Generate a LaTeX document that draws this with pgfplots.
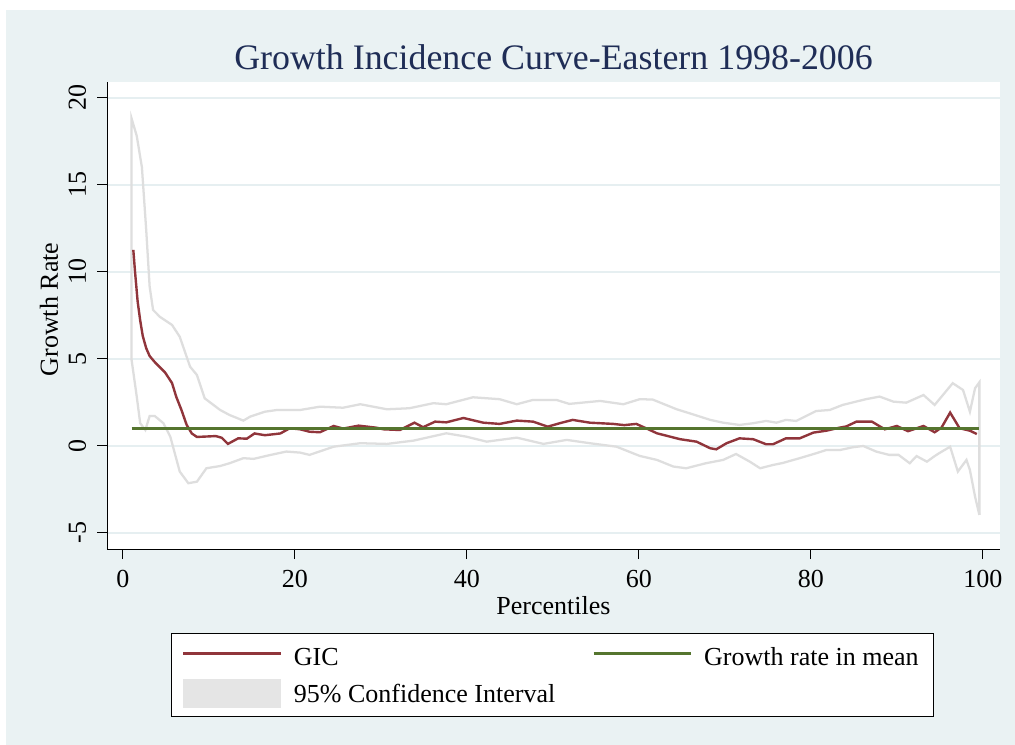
\documentclass[border=0pt]{standalone}
\usepackage{fontspec}
\setmainfont{Liberation Serif}
\usepackage{pgfplots}
\usepackage{pgfplotstable}
\pgfplotsset{compat=1.18}

\definecolor{regionbg}{RGB}{234,242,243}
\definecolor{gridc}{RGB}{230,239,241}
\definecolor{gicred}{RGB}{144,53,59}
\definecolor{meangreen}{RGB}{85,117,47}
\definecolor{cigray}{RGB}{222,222,222}
\definecolor{cifill}{RGB}{229,229,229}
\definecolor{titleblue}{RGB}{31,45,86}

\pgfplotsset{
  longline/.style={legend image code/.code={\draw[##1] (0pt,1pt) -- (73pt,1pt);}},
  cibox/.style={legend image code/.code={\fill[cifill] (0pt,-9.5pt) rectangle (73pt,11.5pt);}},
}

% growth incidence curve
\pgfplotstableread{
x y
1.2 11.25
1.4 10.0
1.7 8.3
2.0 7.2
2.3 6.3
2.7 5.6
3.1 5.15
3.7 4.8
4.3 4.5
4.9 4.2
5.7 3.6
6.2 2.8
6.8 2.05
7.4 1.2
8.0 0.7
8.6 0.5
10.8 0.55
11.5 0.45
12.2 0.1
13.4 0.42
14.4 0.4
15.3 0.7
16.5 0.6
18.3 0.7
19.4 1.0
20.6 0.94
21.7 0.8
22.9 0.77
24.5 1.13
25.6 0.98
27.4 1.15
29.5 1.03
30.3 0.94
32.2 0.9
33.9 1.32
34.9 1.06
36.3 1.38
37.6 1.34
39.6 1.59
41.9 1.32
43.8 1.25
45.8 1.44
47.7 1.38
49.4 1.09
50.8 1.29
52.3 1.48
54.3 1.32
57.0 1.25
58.3 1.18
59.7 1.25
61.1 0.94
62.1 0.71
64.8 0.37
66.7 0.23
68.3 -0.15
69.0 -0.21
70.2 0.14
71.7 0.42
73.3 0.37
74.8 0.08
75.6 0.08
77.1 0.42
78.7 0.42
80.3 0.75
81.8 0.86
83.4 1.04
84.1 1.1
85.3 1.38
87.1 1.38
88.6 0.94
90.0 1.13
91.3 0.83
93.1 1.13
94.4 0.77
95.2 1.04
96.2 1.9
97.3 1.0
98.5 0.86
99.3 0.67
}\gic

% upper bound of the confidence band (with the closing edges at both ends)
\pgfplotstableread{
x y
1.0 4.93
1.0 18.8
1.6 17.8
2.2 16.0
2.7 12.4
3.1 9.14
3.5 7.8
4.3 7.4
5.7 6.94
6.6 6.26
7.8 4.54
8.6 4.06
9.5 2.72
11.3 2.05
12.4 1.76
14.0 1.44
14.8 1.67
16.5 1.95
17.9 2.05
19.4 2.05
20.6 2.05
22.9 2.24
25.6 2.18
27.6 2.38
30.7 2.09
33.3 2.15
36.1 2.44
37.6 2.38
40.7 2.78
43.8 2.67
45.8 2.38
47.7 2.63
50.4 2.63
51.9 2.4
55.5 2.57
58.2 2.38
60.1 2.67
61.6 2.65
64.4 2.09
65.9 1.86
68.3 1.48
69.8 1.32
71.7 1.19
73.3 1.29
74.8 1.42
76.0 1.32
77.1 1.48
78.3 1.42
80.6 1.99
82.2 2.05
83.7 2.34
86.4 2.67
88.0 2.82
89.6 2.53
91.1 2.47
93.1 2.91
94.4 2.34
96.5 3.59
97.7 3.2
98.5 1.95
99.1 3.3
99.6 3.64
99.6 -3.98
}\ciup

% lower bound of the confidence band
\pgfplotstableread{
x y
1.0 4.93
1.6 2.82
2.0 1.29
2.6 0.9
3.1 1.7
3.7 1.7
4.7 1.29
5.5 0.52
6.6 -1.49
7.6 -2.16
8.6 -2.07
9.7 -1.3
11.3 -1.17
12.4 -1.01
14.0 -0.72
15.2 -0.76
17.1 -0.54
19.0 -0.34
20.6 -0.4
21.7 -0.53
24.5 -0.06
27.6 0.14
30.7 0.1
33.8 0.29
37.6 0.71
39.9 0.52
42.3 0.23
45.8 0.46
48.9 0.1
51.6 0.33
54.3 0.14
57.4 -0.06
60.1 -0.59
62.1 -0.82
64.0 -1.2
65.5 -1.3
67.8 -1.01
69.8 -0.82
71.3 -0.48
72.9 -0.92
74.1 -1.3
75.6 -1.11
76.7 -1.0
78.7 -0.72
80.6 -0.44
81.8 -0.25
83.4 -0.25
84.9 -0.09
86.1 -0.02
87.6 -0.34
89.1 -0.53
90.2 -0.53
91.5 -1.01
92.3 -0.6
93.5 -0.92
94.4 -0.6
94.9 -0.44
96.2 -0.06
97.1 -1.49
98.1 -0.82
98.5 -1.4
99.1 -2.93
99.6 -3.98
}\cilow

\newcommand{\lblfont}{\fontsize{19.5}{23}\selectfont}

\begin{document}
\begin{tikzpicture}
\useasboundingbox (0,0) rectangle (761.25pt,-558.75pt);
\fill[white] (0,0) rectangle (761.25pt,-558.75pt);
\fill[regionbg] (4.5pt,-7.5pt) rectangle (761.25pt,-558.75pt);
\begin{axis}[
  at={(80.25pt,-411.75pt)}, anchor=south west,
  scale only axis, width=669.75pt, height=350.25pt,
  xmin=-1.86, xmax=102, ymin=-5.94, ymax=20.9,
  axis x line*=bottom, axis y line*=left,
  axis line style={black, line width=0.75pt, -},
  axis background/.style={fill=white},
  xtick={0,20,40,60,80,100}, xticklabels={0,20,40,60,80,100},
  ytick={-5,0,5,10,15,20}, yticklabels={-5,0,5,10,15,20},
  tick align=outside, major tick length=7.5pt,
  tick style={black, line width=0.75pt},
  ymajorgrids, grid style={gridc, line width=1.5pt},
  tick label style={font=\lblfont},
  xticklabel style={anchor=north, inner sep=0pt, yshift=-8pt},
  yticklabel style={rotate=90, anchor=south, inner sep=0pt},
  yticklabel shift=8pt,
  label style={font=\lblfont},
  xlabel={Percentiles},
  xlabel style={at={(axis description cs:0.5,-0.1392)}, anchor=base, inner sep=0pt},
  ylabel={Growth Rate},
  ylabel style={at={(axis description cs:-0.0549,0.513)}, anchor=base, rotate=0, inner sep=0pt},
  title={Growth Incidence Curve-Eastern 1998-2006},
  title style={at={(axis description cs:0.5,1.0107)}, anchor=base, inner sep=0pt,
    font=\fontsize{26.9}{30}\selectfont, text=titleblue},
  legend columns=2,
  legend style={at={(axis description cs:0.072,-0.1792)}, anchor=north west,
    draw=black, line width=0.75pt, fill=white, font=\lblfont,
    inner xsep=7.8pt, inner ysep=7pt, column sep=9pt, row sep=8.5pt,
    nodes={inner sep=0pt}},
  legend cell align=left,
]
% confidence band outline
\addplot[cigray, line width=1.7pt, forget plot] table[x=x,y=y] {\ciup};
\addplot[cigray, line width=1.7pt, forget plot] table[x=x,y=y] {\cilow};
% GIC
\addplot[gicred, line width=1.8pt, longline] table[x=x,y=y] {\gic};
\addlegendentry{\makebox[214.7pt][l]{\rule[-4pt]{0pt}{21pt}GIC}}
% growth rate in mean
\addplot[meangreen, line width=2pt, longline] coordinates {(1.0,0.97) (99.6,0.97)};
\addlegendentry{\makebox[164pt][l]{\rule[-4pt]{0pt}{21pt}Growth rate in mean}}
\addlegendimage{cibox}
\addlegendentry{95\% Confidence Interval}
\end{axis}
\end{tikzpicture}
\end{document}
